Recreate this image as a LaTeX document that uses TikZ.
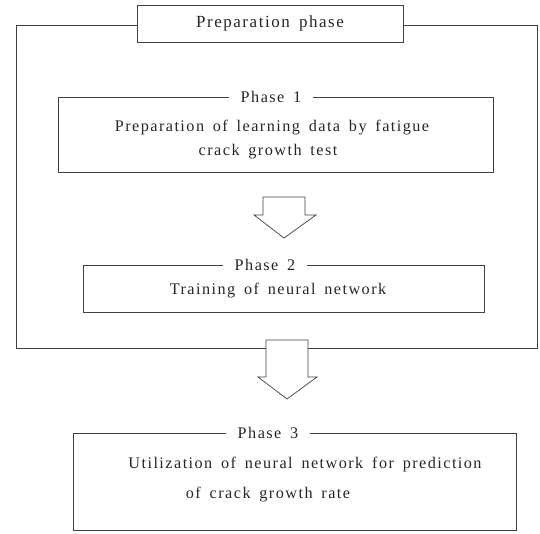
\documentclass[tikz,border=0pt]{standalone}
\usepackage{fontspec}
\setmainfont{Liberation Serif}[LetterSpace=9,WordSpace=1.6]
\begin{document}
\begin{tikzpicture}[x=1pt,y=-1pt,
  frame/.style={draw=black!75, line width=0.7pt, inner sep=0pt, fill=none},
  title/.style={fill=white, inner xsep=12pt, inner ysep=3pt, font=\fontsize{16.2}{19}\selectfont},
  txt/.style={inner sep=0pt, font=\fontsize{16.2}{19}\selectfont, text=black!85},
  blockarrow/.style={draw=black!75, line width=0.7pt, fill=white, line join=miter}]
\useasboundingbox (0,0) rectangle (540,533);
% outer preparation frame
\node[frame, minimum width=521, minimum height=323] (outer) at (276.5,186.5) {};
\node[frame, fill=white, minimum width=266, minimum height=37, font=\fontsize{17}{20}\selectfont, text=black!85] (prep) at (270,23.5) {Preparation phase};
% phase 1
\node[frame, minimum width=435, minimum height=75] (p1) at (275.5,134.5) {};
\node[title, text=black!85] (p1t) at (271,97) {Phase 1};
\node[txt] (p1a) at (272,128) {Preparation of learning data by fatigue};
\node[txt] (p1b) at (268,152) {crack growth test};
% arrow 1
\draw[blockarrow] (263,197) -- (305,197) -- (305,215) -- (316,215) -- (284,238) -- (254,215) -- (263,215) -- cycle;
% phase 2
\node[frame, minimum width=401, minimum height=47] (p2) at (283.5,288.5) {};
\node[title, text=black!85] (p2t) at (265,265) {Phase 2};
\node[txt] (p2a) at (278,291) {Training of neural network};
% arrow 2
\draw[blockarrow] (266,340) -- (308,340) -- (308,377) -- (317,377) -- (287,399) -- (258,377) -- (266,377) -- cycle;
% phase 3
\node[frame, minimum width=443, minimum height=97] (p3) at (294.5,481.5) {};
\node[title, text=black!85] (p3t) at (268,433) {Phase 3};
\node[txt] (p3a) at (305,465) {Utilization of neural network for prediction};
\node[txt] (p3b) at (268,495) {of crack growth rate};
\end{tikzpicture}
\end{document}
